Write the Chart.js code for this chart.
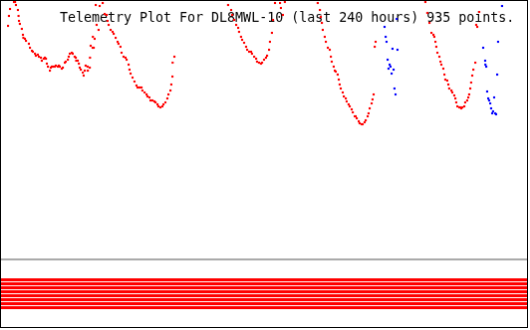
<!DOCTYPE html>
<html>
<head>
<meta charset="utf-8">
<script src="https://cdn.jsdelivr.net/npm/chart.js@4/dist/chart.umd.min.js"></script>
<style>
  body { margin: 0; background: #fff; }
  #telemetry { display: block; border: 1px solid #000; }
</style>
</head>
<body>
<canvas id="telemetry" width="528" height="328"></canvas>
<script>
// === DATA (hours into the 240 h window, analog value) ===
const titleText = 'Telemetry Plot For DL8MWL-10 (last 240 hours) 935 points.';

const analogHours = [
  3.2, 3.6, 4.1, 5.9, 6.4, 6.8, 7.7, 8.0, 8.2, 8.6, 9.5, 10.0, 10.2, 10.9, 11.4, 12.7, 13.2, 14.1, 14.5, 15.5,
  15.9, 16.8, 17.3, 18.2, 18.6, 19.5, 20.0, 20.5, 20.9, 21.4, 22.3, 22.7, 23.2, 23.6, 24.5, 25.0, 25.9, 26.4, 26.8, 27.7,
  28.2, 29.1, 29.5, 30.5, 30.9, 31.4, 32.3, 32.7, 33.6, 34.1, 34.3, 35.0, 35.5, 35.9, 36.4, 37.3, 37.7, 38.2, 38.6, 39.5,
  39.6, 40.5, 40.6, 40.9, 41.8, 41.9, 42.3, 42.7, 43.6, 43.2, 44.5, 45.0, 46.4,
  47.3, 48.2, 48.6, 49.1, 50.0, 50.9, 51.4, 52.3, 53.2, 53.6, 54.5, 55.0, 55.9, 56.8, 57.3, 58.2, 58.6, 59.1, 60.0, 60.9,
  61.8, 62.3, 63.2, 64.1, 64.5, 65.5, 66.4, 66.8, 67.7, 68.2, 69.1, 70.0, 70.5, 71.4, 71.8, 72.7, 73.6, 74.1, 75.0, 75.9,
  76.4, 77.3, 77.7, 78.2, 78.3, 79.1,
  103.6, 105.0, 105.5, 106.4, 107.3, 108.2, 108.6, 109.5, 110.0, 110.9, 111.8, 112.3, 113.2, 114.1, 114.5, 115.5, 116.4,
  116.8, 117.7, 118.6, 119.1, 120.0, 120.9, 121.4, 122.3, 122.7, 123.6, 124.1, 125.0, 127.3, 127.7, 128.6, 129.5,
  144.5, 145.5, 145.9, 146.4, 146.8, 147.7, 148.2, 149.1, 150.0, 150.5, 150.9, 151.8, 152.3, 152.7, 153.6, 154.1, 154.5,
  155.0, 155.9, 156.4, 157.3, 157.7, 158.6, 159.1, 160.0, 160.5, 161.4, 161.8, 162.3, 163.2, 163.6, 164.5, 165.0, 165.9,
  166.4, 167.3, 167.7, 168.2, 169.1, 169.5, 170.0, 170.5, 170.9,
  193.6, 194.5, 195.5, 196.4, 197.3, 197.7, 198.2, 198.6, 199.1, 200.0, 200.5, 200.9, 201.8, 202.3, 202.7, 203.6, 204.1,
  204.5, 205.5, 205.9, 206.8, 207.3, 207.7, 208.2, 209.1, 209.5, 210.0, 210.5, 211.4, 211.8, 212.7, 213.2, 213.6, 214.1,
  214.5, 215.0, 215.5, 216.4, 216.8, 217.3, 218.2
];
const analogValues = [
  235, 245, 252, 259, 259, 256, 251, 245, 240, 237, 232, 226, 223, 222, 220, 217, 213, 210, 209, 207,
  205, 206, 204, 203, 200, 202, 203, 202, 197, 194, 190, 193, 194, 194, 194, 195, 194, 195, 194, 192,
  193, 198, 199, 201, 204, 207, 208, 207, 204, 203, 200, 200, 197, 193, 191, 188, 185, 190, 195, 194,
  190, 193, 203, 215, 213, 224, 213, 222, 236, 256, 231, 255, 258,
  247, 246, 240, 236, 231, 229, 227, 223, 219, 217, 214, 208, 204, 203, 201, 196, 191, 187, 183, 179,
  175, 173, 173, 173, 170, 168, 166, 164, 163, 160, 160, 159, 158, 156, 154, 153, 154, 156, 158, 162,
  166, 170, 176, 184, 198, 204,
  256, 251, 246, 241, 236, 233, 229, 224, 221, 218, 214, 211, 209, 209, 207, 204, 202,
  199, 198, 197, 198, 201, 203, 205, 211, 219, 228, 241, 258, 258, 253, 246, 259,
  258, 251, 244, 238, 231, 224, 219, 213, 211, 204, 199, 194, 190, 189, 186, 181, 176,
  172, 168, 164, 162, 159, 156, 154, 151, 148, 144, 144, 142, 139, 137, 136, 136, 138,
  140, 144, 147, 152, 157, 161, 166, 214, 219,
  259, 248, 238, 228, 226, 224, 219, 214, 208, 204, 199, 196, 192, 186, 181, 180, 176,
  172, 170, 168, 165, 162, 158, 154, 153, 153, 152, 153, 154, 158, 160, 163, 166, 172,
  178, 185, 191, 198, 236, 234, 249
];

const secondHours = [
  175.0, 175.5, 175.9, 176.4, 176.8, 177.3, 177.7, 178.2, 178.6, 179.1, 179.5, 180.0, 180.5, 180.9,
  220.0, 220.9, 221.0, 221.4, 221.8, 222.3, 222.7, 223.2, 223.6, 224.1, 224.5, 225.0, 225.5, 225.9, 226.4, 226.8, 228.6
];
const secondValues = [
  234, 224, 219, 201, 192, 196, 194, 187, 212, 191, 172, 166, 242, 211,
  213, 200, 196, 194, 169, 162, 160, 157, 152, 147, 149, 163, 147, 146, 186, 219, 255
];

// digital channels: 1 = bit set for the whole window
const bitStates = [1, 1, 1, 1, 1, 1, 1, 1];
const windowHours = [0, 240];

// === BUILD DATASETS ===
const toPoints = (xs, ys) => xs.map((x, i) => ({ x: x, y: ys[i] }));

const datasets = [];

// zero reference line
datasets.push({
  data: windowHours.map(h => ({ x: h, y: 0 })),
  showLine: true,
  borderColor: '#aaaaaa',
  borderWidth: 2,
  pointRadius: 0
});

bitStates.forEach((state, i) => {
  if (!state) return;
  const level = -20.5 - 4 * i;
  datasets.push({
    data: windowHours.map(h => ({ x: h, y: level })),
    showLine: true,
    borderColor: '#ff0000',
    borderWidth: 3,
    pointRadius: 0
  });
});

datasets.push({
  data: toPoints(analogHours, analogValues),
  pointStyle: 'rect',
  pointRadius: 1.5,
  pointBorderWidth: 0,
  backgroundColor: '#ff0000',
  borderColor: '#ff0000'
});

datasets.push({
  data: toPoints(secondHours, secondValues),
  pointStyle: 'rect',
  pointRadius: 1.5,
  pointBorderWidth: 0,
  backgroundColor: '#0000ff',
  borderColor: '#0000ff'
});

// title drawn under the data, like the original plot
const titlePlugin = {
  id: 'plotTitle',
  beforeDatasetsDraw(chart) {
    const ctx = chart.ctx;
    ctx.save();
    ctx.fillStyle = '#000';
    ctx.font = '13.3px "DejaVu Sans Mono", "Liberation Mono", monospace';
    ctx.textBaseline = 'alphabetic';
    ctx.fillText(titleText, 59, 21);
    ctx.restore();
  }
};

// === CREATE CHART ===
const ctx = document.getElementById('telemetry').getContext('2d');
new Chart(ctx, {
  type: 'scatter',
  data: { datasets: datasets },
  options: {
    responsive: false,
    animation: false,
    layout: { padding: 0, autoPadding: false },
    plugins: {
      legend: { display: false },
      tooltip: { enabled: false }
    },
    scales: {
      x: { type: 'linear', min: 0, max: 240, display: false },
      y: { type: 'linear', min: -68, max: 260, display: false }
    }
  },
  plugins: [titlePlugin]
});
</script>
</body>
</html>
